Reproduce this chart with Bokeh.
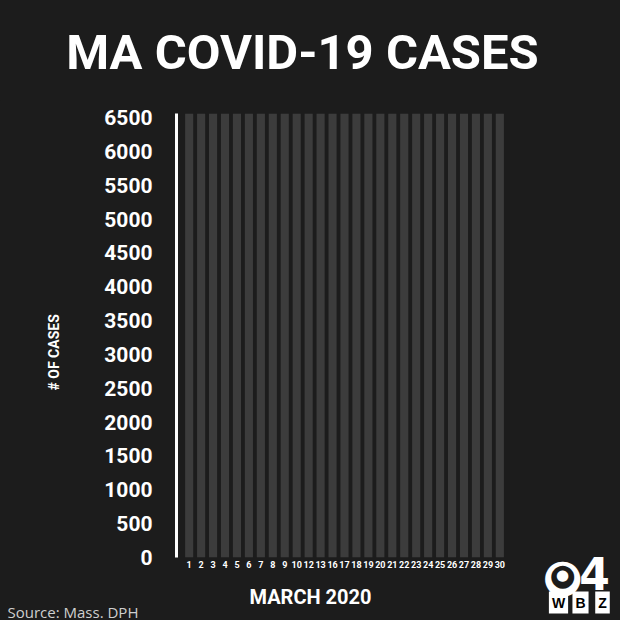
from bokeh.plotting import figure
from bokeh.layouts import row, column
from bokeh.models import Range1d, FactorRange, FixedTicker, Label, Title
from bokeh.embed import file_html
from bokeh.resources import INLINE

# ---- data ----
days = ["1", "2", "3", "4", "5", "6", "7", "8", "9", "10", "12", "13", "16", "17",
        "18", "19", "20", "21", "22", "23", "24", "25", "26", "27", "28", "29", "30"]
cases = [0, 0, 0, 0, 0, 0, 0, 0, 0, 0, 0, 0, 0, 0,
         0, 0, 0, 0, 0, 0, 0, 0, 0, 0, 0, 0, 0]
y_ticks = [0, 500, 1000, 1500, 2000, 2500, 3000, 3500, 4000, 4500, 5000, 5500, 6000, 6500]
y_max = 6560
column_top = [y_max] * len(days)

BOLD = "Roboto"
BG = "#1c1c1c"


def blank(fig):
    fig.background_fill_color = None
    fig.border_fill_color = BG
    fig.outline_line_color = None
    fig.grid.grid_line_color = None
    try:
        fig.frame_align = False
    except Exception:
        pass


# ---- title strip (page coordinates, y downward) ----
t = figure(width=620, height=100, output_backend="svg", toolbar_location=None,
           x_range=Range1d(0, 620), y_range=Range1d(100, 0),
           x_axis_type=None, y_axis_type=None, min_border=0)
blank(t)
t.add_layout(Label(x=302, y=52, text="MA COVID-19 CASES", text_align="center",
                   text_baseline="middle", text_color="white", text_font=BOLD,
                   text_font_style="bold", text_font_size="49px"))

# ---- main chart ----
p = figure(width=540, height=483, output_backend="svg", toolbar_location=None,
           x_range=FactorRange(*days, range_padding=0.56, range_padding_units="absolute"),
           y_range=Range1d(0, y_max),
           min_border_left=176, min_border_right=28, min_border_top=13, min_border_bottom=26)
blank(p)

p.vbar(x=days, top=column_top, bottom=0, width=0.68, color="#3c3c3c", line_color=None)
p.vbar(x=days, top=cases, bottom=0, width=0.68, color="#d9d9d9", line_color=None)

ya = p.yaxis[0]
ya.ticker = FixedTicker(ticks=y_ticks)
ya.axis_line_color = "white"
ya.axis_line_width = 3
ya.major_tick_line_color = None
ya.minor_tick_line_color = None
ya.major_tick_out = 0
ya.major_label_standoff = 24
ya.major_label_text_color = "white"
ya.major_label_text_font = BOLD
ya.major_label_text_font_style = "bold"
ya.major_label_text_font_size = "21px"

xa = p.xaxis[0]
xa.axis_line_color = None
xa.major_tick_line_color = None
xa.minor_tick_line_color = None
xa.major_tick_out = 0
xa.major_label_standoff = 3
xa.major_label_text_color = "white"
xa.major_label_text_font = BOLD
xa.major_label_text_font_style = "bold"
xa.major_label_text_font_size = "9px"

p.add_layout(Title(text="# OF CASES", align="left", offset=167, standoff=80,
                   text_color="white", text_font=BOLD, text_font_style="bold",
                   text_font_size="14px"), "left")

# ---- bottom strip: axis title and source ----
b = figure(width=540, height=37, output_backend="svg", toolbar_location=None,
           x_range=Range1d(0, 540), y_range=Range1d(620, 583),
           x_axis_type=None, y_axis_type=None, min_border=0)
blank(b)
b.add_layout(Label(x=310, y=596, text="MARCH 2020", text_align="center",
                   text_baseline="middle", text_color="white", text_font=BOLD,
                   text_font_style="bold", text_font_size="20px"))
b.add_layout(Label(x=7, y=611, text="Source: Mass. DPH", text_align="left",
                   text_baseline="middle", text_color="#cfcfcf", text_font="Open Sans",
                   text_font_size="15px"))

# ---- station logo panel (CBS eye, 4, WBZ) ----
q = figure(width=80, height=520, output_backend="svg", toolbar_location=None,
           x_range=Range1d(540, 620), y_range=Range1d(620, 100),
           x_axis_type=None, y_axis_type=None, min_border=0)
blank(q)
for txt, size, col in [("\u25cf", "46px", "white"), ("\u25cf", "30px", BG), ("\u25cf", "15px", "white")]:
    q.add_layout(Label(x=562, y=574, text=txt, text_align="center", text_baseline="middle",
                       text_color=col, text_font="DejaVu Sans", text_font_size=size))
q.add_layout(Label(x=594, y=573, text="4", text_align="center", text_baseline="middle",
                   text_color="white", text_font="DejaVu Sans", text_font_style="bold",
                   text_font_size="44px"))
for i, letter in enumerate(["W", "B", "Z"]):
    q.add_layout(Label(x=558 + i * 22, y=602, text=letter, text_align="center",
                       text_baseline="middle", text_color="black", text_font="Liberation Sans",
                       text_font_style="bold", text_font_size="14px",
                       background_fill_color="white", padding=3))

layout = column(t, row(column(p, b, spacing=0), q, spacing=0), spacing=0,
                styles={"background-color": BG})
open("out.html", "w").write(file_html(layout, INLINE))
